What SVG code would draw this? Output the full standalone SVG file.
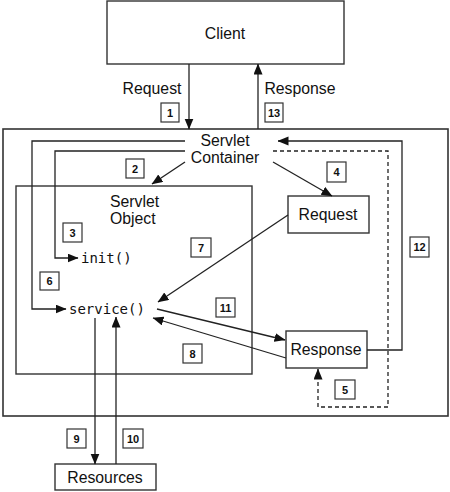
<svg xmlns="http://www.w3.org/2000/svg" width="450" height="492" viewBox="0 0 450 492">
<defs>
<style>
.box{fill:#fff;stroke:#333;stroke-width:1.4}
.lbl{font-family:"Liberation Sans",Arial,sans-serif;font-size:15.8px;fill:#111}
.code{font-family:"DejaVu Sans Mono",monospace;font-size:14px;fill:#111}
.num{fill:#fff;stroke:#333;stroke-width:1.2}
.numt{font-family:"Liberation Sans",Arial,sans-serif;font-size:11px;font-weight:bold;fill:#111;text-anchor:middle}
.ln{fill:none;stroke:#222;stroke-width:1.3}
.dash{fill:none;stroke:#222;stroke-width:1.3;stroke-dasharray:4,3}
</style>
<marker id="ah" markerUnits="userSpaceOnUse" markerWidth="11" markerHeight="10" refX="10.5" refY="4.5" orient="auto">
<path d="M0,0 L11,4.5 L0,9 z" fill="#111"/>
</marker>
</defs>
<rect width="450" height="492" fill="#fff"/>

<g id="container">
<rect x="3" y="129" width="445" height="287" fill="none" stroke="#333" stroke-width="1.6"/>
<text class="lbl" x="225" y="146" text-anchor="middle">Servlet</text>
<text class="lbl" x="225" y="163" text-anchor="middle">Container</text>
</g>

<g id="servlet-object">
<rect x="16" y="186" width="236" height="188" fill="none" stroke="#333" stroke-width="1.4"/>
<text class="lbl" x="110" y="207">Servlet</text>
<text class="lbl" x="110" y="224">Object</text>
<text class="code" x="81" y="263">init()</text>
<text class="code" x="69" y="314">service()</text>
</g>

<g id="client">
<rect class="box" x="107" y="1" width="237" height="63"/>
<text class="lbl" x="225" y="39" text-anchor="middle">Client</text>
</g>

<g id="request">
<rect class="box" x="288" y="196" width="81" height="37"/>
<text class="lbl" x="328" y="220" text-anchor="middle">Request</text>
</g>

<g id="response">
<rect class="box" x="286" y="331" width="81" height="37"/>
<text class="lbl" x="326" y="355" text-anchor="middle">Response</text>
</g>

<g id="resources">
<rect class="box" x="55" y="464" width="101" height="26"/>
<text class="lbl" x="105" y="483" text-anchor="middle">Resources</text>
</g>

<g id="connectors">
<line class="ln" x1="189" y1="64" x2="189" y2="129" marker-end="url(#ah)"/>
<line class="ln" x1="258" y1="129" x2="258" y2="64" marker-end="url(#ah)"/>
<line class="ln" x1="185" y1="162" x2="152" y2="184" marker-end="url(#ah)"/>
<line class="ln" x1="273" y1="162" x2="332" y2="196" marker-end="url(#ah)"/>
<polyline class="ln" points="185,151 55,151 55,258 78,258" marker-end="url(#ah)"/>
<polyline class="ln" points="185,141 32,141 32,309 66,309" marker-end="url(#ah)"/>
<line class="ln" x1="288" y1="215" x2="158" y2="302" marker-end="url(#ah)"/>
<line class="ln" x1="157" y1="309" x2="285" y2="340" marker-end="url(#ah)"/>
<line class="ln" x1="286" y1="358" x2="153" y2="318" marker-end="url(#ah)"/>
<polyline class="ln" points="367,350 402,350 402,141 278,141" marker-end="url(#ah)"/>
<polyline class="dash" points="273,151 388,151 388,407 318,407 318,369" marker-end="url(#ah)"/>
<line class="ln" x1="95" y1="318" x2="95" y2="464" marker-end="url(#ah)"/>
<line class="ln" x1="116" y1="464" x2="116" y2="317" marker-end="url(#ah)"/>

<text class="lbl" x="152" y="94" text-anchor="middle">Request</text>
<text class="lbl" x="300" y="94" text-anchor="middle">Response</text>

<rect class="num" x="161" y="103" width="18" height="19"/><text class="numt" x="170" y="116.5">1</text>
<rect class="num" x="265" y="103" width="18" height="19"/><text class="numt" x="274" y="116.5">13</text>
<rect class="num" x="126" y="159" width="18" height="19"/><text class="numt" x="135" y="172.5">2</text>
<rect class="num" x="63" y="223" width="19" height="19"/><text class="numt" x="72.5" y="236.5">3</text>
<rect class="num" x="327" y="162" width="19" height="20"/><text class="numt" x="336.5" y="176">4</text>
<rect class="num" x="40" y="272" width="19" height="18"/><text class="numt" x="49.5" y="285">6</text>
<rect class="num" x="191" y="238" width="20" height="19"/><text class="numt" x="201" y="251.5">7</text>
<rect class="num" x="410" y="237" width="19" height="20"/><text class="numt" x="419.5" y="251">12</text>
<rect class="num" x="216" y="298" width="19" height="19"/><text class="numt" x="225.5" y="311.5">11</text>
<rect class="num" x="183" y="344" width="19" height="19"/><text class="numt" x="192.5" y="357.5">8</text>
<rect class="num" x="335" y="380" width="20" height="19"/><text class="numt" x="345" y="393.5">5</text>
<rect class="num" x="67" y="429" width="19" height="19"/><text class="numt" x="76.5" y="442.5">9</text>
<rect class="num" x="123" y="429" width="20" height="19"/><text class="numt" x="133" y="442.5">10</text>
</g>
</svg>
